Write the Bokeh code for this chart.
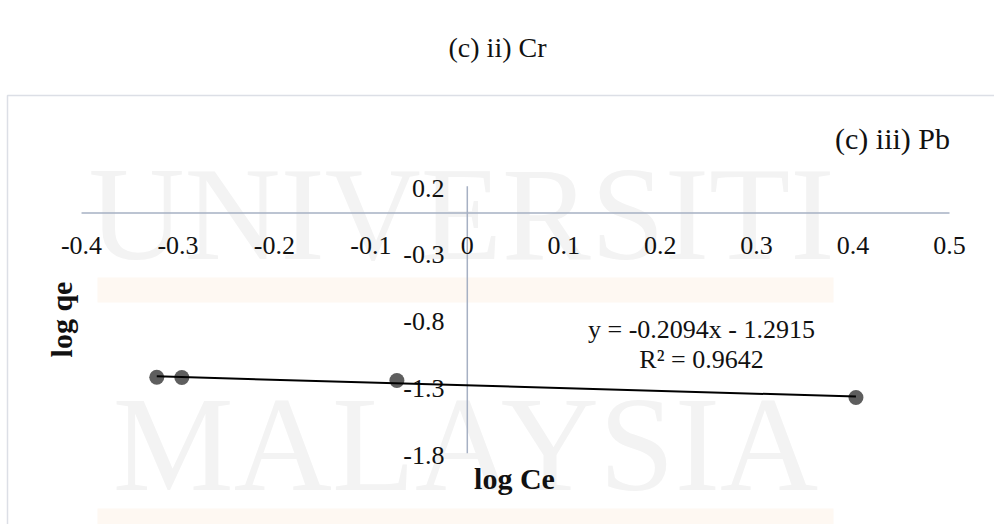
import math

from bokeh.plotting import figure
from bokeh.core.properties import value
from bokeh.embed import file_html
from bokeh.resources import INLINE

# Pb: log Ce vs log qe
log_ce = [-0.322, -0.296, -0.073, 0.403]
log_qe = [-1.231, -1.233, -1.255, -1.383]

# linear fit shown on the chart
slope = -0.2094
intercept = -1.2915
r_squared = 0.9642

x_ticks = [-0.4, -0.3, -0.2, -0.1, 0.0, 0.1, 0.2, 0.3, 0.4, 0.5]
x_tick_labels = ["-0.4", "-0.3", "-0.2", "-0.1", "0", "0.1", "0.2", "0.3", "0.4", "0.5"]
y_ticks = [0.2, -0.3, -0.8, -1.3, -1.8]
y_tick_labels = ["0.2", "-0.3", "-0.8", "-1.3", "-1.8"]

W, H = 994, 524

# page geometry: where the origin sits and how many pixels one unit spans
X0_PX = 466.8
X_SCALE = 964.4
Y0_PX = 212.4
Y_SCALE = 133.5


def px_x(px):
    return (px - X0_PX) / X_SCALE


def px_y(py):
    return (Y0_PX - py) / Y_SCALE


SERIF = value("Liberation Serif")

p = figure(
    width=W, height=H,
    x_range=(px_x(0), px_x(W)), y_range=(px_y(H), px_y(0)),
    x_axis_type=None, y_axis_type=None,
    min_border=0, toolbar_location=None, output_backend="svg",
    outline_line_color=None, background_fill_color="white",
    border_fill_color="white",
)
p.xgrid.visible = False
p.ygrid.visible = False

# faint page watermark behind the chart
p.quad(left=[px_x(97)], right=[px_x(833)], top=[px_y(277)], bottom=[px_y(302)],
       fill_color="#fef8f2", line_color=None)
p.quad(left=[px_x(97)], right=[px_x(833)], top=[px_y(508)], bottom=[px_y(540)],
       fill_color="#fef8f2", line_color=None)
p.text(x=[px_x(461)], y=[px_y(213)], text=["UNIVERSITI"], text_font=SERIF,
       text_font_size="133px", text_color="#f3f3f3", text_align="center",
       text_baseline="alphabetic")
p.text(x=[px_x(465)], y=[px_y(443)], text=["MALAYSIA"], text_font=SERIF,
       text_font_size="136px", text_color="#f3f3f3", text_align="center",
       text_baseline="alphabetic")

# chart border
p.quad(left=[px_x(7)], right=[px_x(1010)], top=[px_y(95)], bottom=[px_y(540)],
       fill_color=None, line_color="#dcdfe6", line_width=1.5)

# title of the panel above
p.text(x=[px_x(497)], y=[px_y(47)], text=["(c) ii) Cr"], text_font=SERIF,
       text_font_size="28px", text_color="#111111", text_align="center",
       text_baseline="middle")

# crossing axes
axis_color = "#a6b0c3"
p.segment(x0=[x_ticks[0]], y0=[0], x1=[x_ticks[-1]], y1=[0],
          line_color=axis_color, line_width=1.5)
p.segment(x0=[0], y0=[y_ticks[-1]], x1=[0], y1=[y_ticks[0]],
          line_color=axis_color, line_width=1.5)

# tick labels
p.text(x=x_ticks, y=[px_y(245)] * len(x_ticks), text=x_tick_labels,
       text_font=SERIF, text_font_size="26px", text_color="#111111",
       text_align="center", text_baseline="middle")
p.text(x=[px_x(444)] * len(y_ticks), y=[v - 2 / Y_SCALE for v in y_ticks],
       text=y_tick_labels, text_font=SERIF, text_font_size="26px",
       text_color="#111111", text_align="right", text_baseline="middle")

# data points and trendline
p.scatter(log_ce, log_qe, size=15, fill_color="#5e5e5e", line_color=None)
fit_x = [min(log_ce), max(log_ce)]
fit_y = [slope * x + intercept for x in fit_x]
p.line(fit_x, fit_y, line_color="black", line_width=2)

# fit equation
eq = f"y = {slope:.4f}x - {abs(intercept):.4f}"
p.text(x=[px_x(701)] * 2, y=[px_y(329), px_y(359)],
       text=[eq, f"R² = {r_squared:.4f}"], text_font=SERIF,
       text_font_size="26px", text_color="#111111", text_align="center",
       text_baseline="middle")

# axis titles and panel label
p.text(x=[px_x(514)], y=[px_y(478)], text=["log Ce"], text_font=SERIF,
       text_font_size="30px", text_font_style="bold", text_color="#111111",
       text_align="center", text_baseline="middle")
p.text(x=[px_x(61)], y=[px_y(319)], text=["log qe"], text_font=SERIF,
       text_font_size="30px", text_font_style="bold", text_color="#111111",
       text_align="center", text_baseline="middle", angle=math.pi / 2)
p.text(x=[px_x(892)], y=[px_y(138)], text=["(c) iii) Pb"], text_font=SERIF,
       text_font_size="30px", text_color="#111111", text_align="center",
       text_baseline="middle")

open("out.html", "w").write(file_html(p, INLINE))
